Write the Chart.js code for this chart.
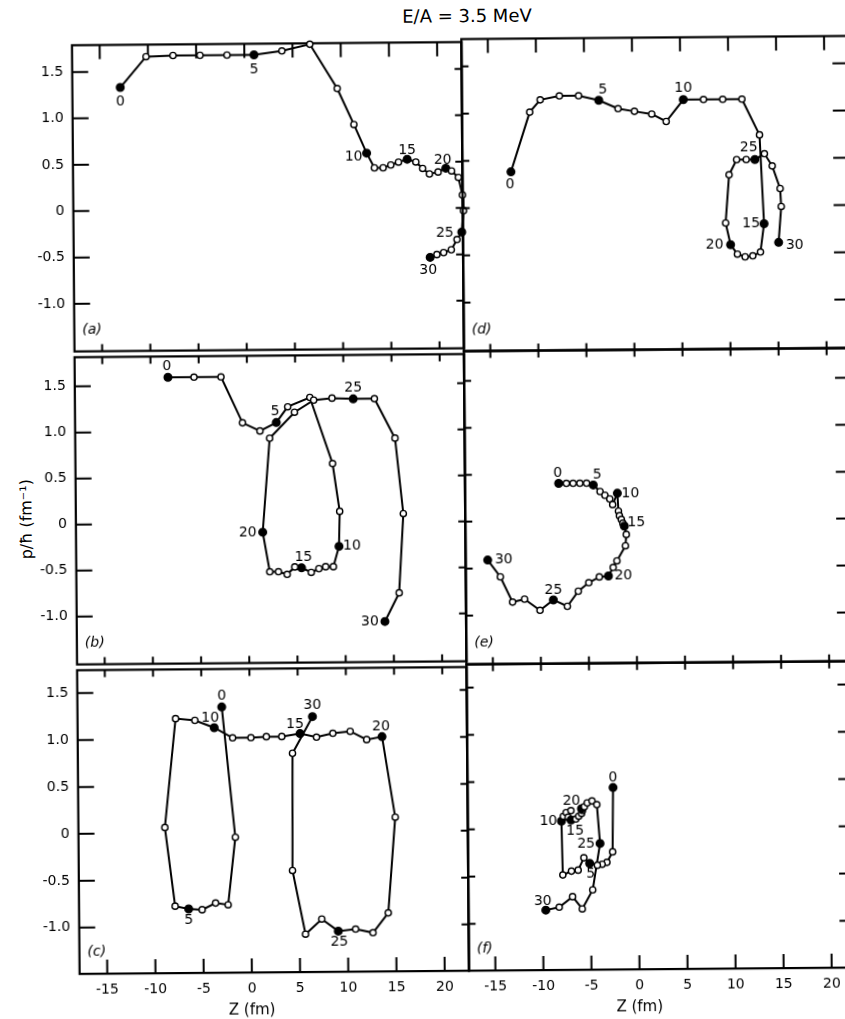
<!DOCTYPE html>
<html>
<head>
<meta charset="utf-8">
<script src="https://cdn.jsdelivr.net/npm/chart.js@4.4.1/dist/chart.umd.min.js"></script>
<style>
  html, body { margin: 0; padding: 0; background: #fff; }
  body { width: 845px; height: 1019px; overflow: hidden; position: relative; }
  /* the scanned figure is turned a little, so the whole drawing is too */
  #fig { position: absolute; left: 0; top: 0; width: 845px; height: 1019px;
         transform: rotate(-0.47deg); transform-origin: 422.5px 509.5px; }
  #fig canvas { position: absolute; }
  .txt { position: absolute; font-family: "DejaVu Sans", sans-serif; color: #000; white-space: nowrap; }
  #title { left: 471px; top: 16.4px; font-size: 18px; transform: translate(-50%, -50%); }
  #ylab { left: 26px; top: 515.8px; font-size: 16px; transform: translate(-50%, -50%) rotate(-90deg); }
</style>
</head>
<body>
<div id="fig">
  <div class="txt" id="title">E/A = 3.5 MeV</div>
  <div class="txt" id="ylab">p/ħ (fm⁻¹)</div>
</div>
<script>
// tick values and step labels
const xTicks = [-15, -10, -5, 0, 5, 10, 15, 20];
const yTicks = [-1.0, -0.5, 0, 0.5, 1.0, 1.5];
const stepLabels = [0, 5, 10, 15, 20, 25, 30];

// trajectories, one point per time step 0..30 (z in fm, p/hbar in fm^-1)
const zA = [-12.9, -10.2, -7.4, -4.6, -1.8, 1.0, 3.9, 6.8, 9.6, 11.3, 12.6, 13.4, 14.3, 15.1, 15.9, 16.8,
            17.7, 18.4, 19.1, 20.0, 20.8, 21.4, 22.1, 22.5, 22.6, 22.4, 21.9, 21.3, 20.5, 19.8, 19.1];
const pA = [1.33, 1.66, 1.67, 1.67, 1.67, 1.67, 1.71, 1.78, 1.30, 0.91, 0.60, 0.44, 0.44, 0.47, 0.50, 0.53,
            0.50, 0.43, 0.37, 0.39, 0.43, 0.40, 0.33, 0.14, -0.03, -0.26, -0.34, -0.45, -0.48, -0.50, -0.53];

const zB = [-8.2, -5.5, -2.7, -0.5, 1.3, 3.0, 4.2, 6.5, 8.8, 9.5, 9.4, 8.8, 8.0, 7.3, 6.5, 5.5,
            4.8, 4.0, 3.1, 2.2, 1.5, 2.3, 4.9, 6.9, 8.8, 11.0, 13.2, 15.3, 16.1, 15.6, 14.1];
const pB = [1.59, 1.59, 1.59, 1.09, 1.00, 1.09, 1.26, 1.36, 0.64, 0.12, -0.26, -0.48, -0.48, -0.50, -0.54, -0.49,
            -0.48, -0.56, -0.53, -0.53, -0.10, 0.92, 1.20, 1.33, 1.35, 1.34, 1.34, 0.91, 0.09, -0.77, -1.08];

const zC = [-2.9, -1.6, -2.4, -3.7, -5.1, -6.5, -7.9, -8.9, -7.7, -5.7, -3.7, -1.8, 0.1, 1.7, 3.3, 5.2,
            6.9, 8.6, 10.4, 12.1, 13.7, 15.0, 14.2, 12.6, 10.8, 9.0, 7.3, 5.6, 4.3, 4.4, 6.5];
const pC = [1.34, -0.05, -0.77, -0.75, -0.82, -0.81, -0.78, 0.06, 1.22, 1.20, 1.12, 1.01, 1.01, 1.02, 1.02, 1.05,
            1.01, 1.05, 1.07, 0.98, 1.01, 0.15, -0.87, -1.08, -1.04, -1.06, -0.93, -1.09, -0.41, 0.84, 1.23];

const zD = [-12.7, -10.7, -9.6, -7.6, -5.6, -3.5, -1.5, 0.2, 2.0, 3.5, 5.3, 7.4, 9.4, 11.4, 13.2, 13.6,
            13.2, 12.4, 11.6, 10.8, 10.1, 9.6, 10.0, 10.8, 11.8, 12.7, 13.7, 14.5, 15.3, 15.4, 15.1];
const pD = [0.38, 1.01, 1.14, 1.18, 1.18, 1.13, 1.04, 1.01, 0.98, 0.90, 1.13, 1.13, 1.13, 1.13, 0.75, -0.19,
            -0.49, -0.53, -0.54, -0.51, -0.41, -0.18, 0.33, 0.49, 0.49, 0.49, 0.55, 0.42, 0.18, -0.01, -0.39];

const zE = [-8.0, -7.2, -6.5, -5.8, -5.1, -4.4, -3.7, -3.2, -2.7, -2.4, -1.9, -1.8, -1.7, -1.5, -1.35, -1.2,
            -1.0, -1.1, -2.0, -2.4, -2.9, -3.85, -4.95, -6.05, -7.2, -8.65, -10.05, -11.65, -12.9, -14.15, -15.45];
const pE = [0.40, 0.40, 0.40, 0.40, 0.40, 0.38, 0.31, 0.27, 0.23, 0.17, 0.29, 0.10, 0.05, 0.01, -0.03, -0.06,
            -0.15, -0.27, -0.43, -0.50, -0.59, -0.60, -0.66, -0.75, -0.91, -0.84, -0.95, -0.83, -0.86, -0.59, -0.41];

const zF = [-2.6, -2.7, -3.3, -3.8, -4.3, -5.1, -5.7, -6.3, -7.0, -7.9, -8.0, -7.8, -7.5, -7.0, -7.3, -7.0,
            -6.5, -6.2, -5.9, -5.8, -5.9, -5.6, -5.3, -4.8, -4.3, -4.0, -4.8, -5.9, -6.9, -8.3, -9.7];
const pF = [0.43, -0.25, -0.36, -0.38, -0.39, -0.37, -0.31, -0.44, -0.45, -0.49, 0.08, 0.13, 0.17, 0.19, 0.12, 0.09,
            0.10, 0.13, 0.16, 0.19, 0.21, 0.23, 0.27, 0.29, 0.25, -0.16, -0.65, -0.85, -0.72, -0.83, -0.86];

// where the step numbers sit relative to their filled dots (px)
const offA = [[0, 14], [0, 15], [-13, 4], [0, -9], [-3, -8], [-17, 1], [-2, 13]];
const offB = [[-1, -11], [-1, -11], [13, 0], [2, -10], [-15, 0], [0, -11], [-15, 0]];
const offC = [[0, -11], [0, 11], [-4, -10], [-5, -9], [-1, -10], [1, 11], [0, -11]];
const offD = [[-1, 13], [4, -10], [0, -11], [-13, 0], [-16, 0], [-6, -12], [16, 3]];
const offE = [[-1, -10], [4, -10], [13, 0], [12, -3], [15, 0], [0, -10], [16, 0]];
const offF = [[0, -10], [1, 11], [-13, 0], [4, 11], [-10, -8], [-14, 0], [-3, -9]];

// panel grid in page px, and axis ranges per column / row
const colX = [75.8, 465.2, 852.1];
const rowY = [39.45, 351.5, 664.7, 971.1];
const colRange = [[-17.87, 22.52], [-17.75, 22.52]];
const rowRange = [[-1.514, 1.790], [-1.519, 1.817], [-1.494, 1.745]];

const panels = [
  { name: '(a)', z: zA, p: pA, off: offA, col: 0, row: 0 },
  { name: '(b)', z: zB, p: pB, off: offB, col: 0, row: 1 },
  { name: '(c)', z: zC, p: pC, off: offC, col: 0, row: 2 },
  { name: '(d)', z: zD, p: pD, off: offD, col: 1, row: 0 },
  { name: '(e)', z: zE, p: pE, off: offE, col: 1, row: 1 },
  { name: '(f)', z: zF, p: pF, off: offF, col: 1, row: 2 },
];

const FONT = '"DejaVu Sans", sans-serif';
Chart.defaults.font.family = FONT;
Chart.defaults.color = '#000';

// frame with inward ticks, step numbers, panel letter, Z title
const panelPlugin = {
  id: 'panel',
  beforeDatasetsDraw(chart, args, o) {
    const { ctx, chartArea: a, scales: { x, y } } = chart;
    const len = side => o.outer[side] ? (side === 'left' || side === 'right' ? 16 : 14) : 7;
    ctx.save();
    ctx.strokeStyle = '#000';
    ctx.lineWidth = 2.2;
    ctx.strokeRect(a.left, a.top, a.right - a.left, a.bottom - a.top);
    ctx.lineWidth = 2;
    ctx.beginPath();
    yTicks.forEach(v => {
      const py = y.getPixelForValue(v);
      ctx.moveTo(a.left, py); ctx.lineTo(a.left + len('left'), py);
      ctx.moveTo(a.right, py); ctx.lineTo(a.right - len('right'), py);
    });
    xTicks.forEach(v => {
      const px = x.getPixelForValue(v);
      ctx.moveTo(px, a.top); ctx.lineTo(px, a.top + len('top'));
      ctx.moveTo(px, a.bottom); ctx.lineTo(px, a.bottom - len('bottom'));
    });
    ctx.stroke();
    ctx.restore();
  },
  afterDatasetsDraw(chart, args, o) {
    const { ctx, chartArea: a, scales: { x } } = chart;
    const meta = chart.getDatasetMeta(0);
    ctx.save();
    ctx.fillStyle = '#000';
    ctx.textAlign = 'center';
    ctx.textBaseline = 'middle';
    ctx.font = '14px ' + FONT;
    stepLabels.forEach((s, k) => {
      const pt = meta.data[s];
      ctx.fillText(String(s), pt.x + o.off[k][0], pt.y + o.off[k][1]);
    });
    ctx.textAlign = 'left';
    ctx.font = 'italic 14px ' + FONT;
    ctx.fillText(o.name, a.left + 8, a.bottom - 21.5);
    if (o.zTitle) {
      ctx.textAlign = 'center';
      ctx.font = '15px ' + FONT;
      ctx.fillText('Z (fm)', x.getPixelForValue(0), a.bottom + 38.5);
    }
    ctx.restore();
  }
};

const fig = document.getElementById('fig');

panels.forEach(pn => {
  const l = colX[pn.col], r = colX[pn.col + 1], t = rowY[pn.row], b = rowY[pn.row + 1];
  const yLab = pn.col === 0, xLab = pn.row === 2;
  const cx = Math.floor(l) - (yLab ? 76 : 14);
  const cy = Math.floor(t) - 14;
  const cw = Math.ceil(r) + 14 - cx;
  const ch = Math.ceil(b) + (xLab ? 48 : 14) - cy;

  const cv = document.createElement('canvas');
  cv.width = cw; cv.height = ch;
  cv.style.left = cx + 'px'; cv.style.top = cy + 'px';
  cv.style.width = cw + 'px'; cv.style.height = ch + 'px';
  fig.appendChild(cv);

  new Chart(cv, {
    type: 'scatter',
    data: {
      datasets: [{
        data: pn.z.map((z, i) => ({ x: z, y: pn.p[i] })),
        showLine: true,
        borderColor: '#000',
        borderWidth: 2,
        pointRadius: c => c.dataIndex % 5 === 0 ? 3.8 : 3.1,
        pointBackgroundColor: c => c.dataIndex % 5 === 0 ? '#000' : '#fff',
        pointBorderColor: '#000',
        pointBorderWidth: 1.4,
        clip: false
      }]
    },
    options: {
      responsive: false,
      animation: false,
      events: [],
      layout: {
        padding: {
          left: yLab ? 0 : l - cx,
          right: cx + cw - r,
          top: t - cy,
          bottom: xLab ? 0 : cy + ch - b
        }
      },
      plugins: {
        legend: { display: false },
        tooltip: { enabled: false },
        panel: {
          name: pn.name,
          off: pn.off,
          zTitle: xLab,
          outer: { left: pn.col === 0, right: pn.col === 1, top: pn.row === 0, bottom: pn.row === 2 }
        }
      },
      scales: {
        x: {
          type: 'linear',
          bounds: 'data',
          min: colRange[pn.col][0],
          max: colRange[pn.col][1],
          display: xLab,
          afterBuildTicks: s => { s.ticks = xTicks.map(v => ({ value: v })); },
          afterFit: s => { if (xLab) s.height = cy + ch - b; },
          grid: { display: false, drawTicks: false },
          border: { display: false },
          ticks: {
            autoSkip: false, maxRotation: 0, padding: 8,
            font: { size: 14 }, color: '#000',
            callback: v => String(v)
          }
        },
        y: {
          type: 'linear',
          bounds: 'data',
          min: rowRange[pn.row][0],
          max: rowRange[pn.row][1],
          display: yLab,
          afterBuildTicks: s => { s.ticks = yTicks.map(v => ({ value: v })); },
          afterFit: s => { if (yLab) s.width = l - cx; },
          grid: { display: false, drawTicks: false },
          border: { display: false },
          ticks: {
            autoSkip: false, padding: 9,
            font: { size: 14 }, color: '#000',
            callback: v => v === 0 ? '0' : v.toFixed(1)
          }
        }
      }
    },
    plugins: [panelPlugin]
  });
});
</script>
</body>
</html>
